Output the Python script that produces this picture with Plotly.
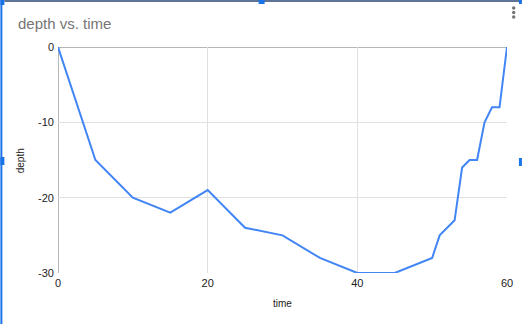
import plotly.graph_objects as go

time = [0, 5, 10, 15, 20, 25, 30, 35, 40, 45, 50, 51, 53, 54, 55, 56, 57, 58, 59, 60]
depth = [0, -15, -20, -22, -19, -24, -25, -28, -30, -30, -28, -25, -23, -16, -15, -15, -10, -8, -8, 0]
x_ticks = [0, 20, 40, 60]
y_ticks = [0, -10, -20, -30]

W, H = 525, 324
L, R, T, B = 58, 15, 47, 51
PW, PH = W - L - R, H - T - B


def px(x):
    return (x - L) / PW


def py(y):
    return (H - B - y) / PH


fig = go.Figure()
fig.add_trace(go.Scatter(x=time, y=depth, mode="lines",
                         line=dict(color="#4285f4", width=2), hoverinfo="x+y"))

font = "Liberation Sans, Arial, sans-serif"
fig.update_layout(
    width=W, height=H,
    margin=dict(l=L, r=R, t=T, b=B),
    paper_bgcolor="white", plot_bgcolor="white",
    showlegend=False,
    font=dict(family=font, size=11, color="#222222"),
    xaxis=dict(range=[0, 60], tickvals=x_ticks, ticktext=[str(v) for v in x_ticks],
               showgrid=True, gridcolor="#e0e0e0", gridwidth=1,
               zeroline=False, showline=False, ticks="", ticklen=0,
               ticklabelstandoff=2,
               tickfont=dict(size=11, color="#222222")),
    yaxis=dict(range=[-30, 0], tickvals=y_ticks, ticktext=[str(v) for v in y_ticks],
               showgrid=True, gridcolor="#e0e0e0", gridwidth=1,
               zeroline=False, showline=False, ticks="", ticklen=0,
               ticklabelstandoff=3,
               tickfont=dict(size=11, color="#222222")),
)

# darker baselines at x=0 and y=0
fig.add_shape(type="line", xref="x", yref="y", x0=0, x1=0, y0=-30, y1=0,
              line=dict(color="#9e9e9e", width=1.5), layer="below")
fig.add_shape(type="line", xref="x", yref="y", x0=0, x1=60, y0=0, y1=0,
              line=dict(color="#9e9e9e", width=1.5), layer="below")

# title and axis titles
fig.add_annotation(text="depth vs. time", xref="paper", yref="paper",
                   x=px(16), y=py(24), xanchor="left", yanchor="middle",
                   showarrow=False, font=dict(size=15, color="#757575", family=font))
fig.add_annotation(text="time", xref="paper", yref="paper",
                   x=px(284), y=py(303), xanchor="center", yanchor="middle",
                   showarrow=False, font=dict(size=10, color="#222222", family=font))
fig.add_annotation(text="depth", xref="paper", yref="paper",
                   x=px(20), y=py(161), xanchor="center", yanchor="middle", textangle=-90,
                   showarrow=False, font=dict(size=10, color="#222222", family=font))


def rect(x0, y0, x1, y1, color):
    fig.add_shape(type="rect", xref="paper", yref="paper",
                  x0=px(x0), x1=px(x1), y0=py(y0), y1=py(y1),
                  line=dict(width=0), fillcolor=color, layer="above")


# editor frame artifacts
rect(4, 0, 525, 2, "#5f7396")
rect(0, 0, 2, 324, "#1a73e8")
rect(0, 0, 4, 5, "#1a73e8")
rect(260, 0, 266, 4, "#1a73e8")
rect(522, 0, 525, 4, "#1a73e8")
rect(0, 157, 4, 165, "#1a73e8")
rect(522, 158, 525, 166, "#1a73e8")
for yy in (8, 12.5, 17):
    fig.add_shape(type="circle", xref="paper", yref="paper",
                  x0=px(515), x1=px(518.5), y0=py(yy - 1.7), y1=py(yy + 1.7),
                  line=dict(width=0), fillcolor="#757575", layer="above")

fig.write_html("out.html")
